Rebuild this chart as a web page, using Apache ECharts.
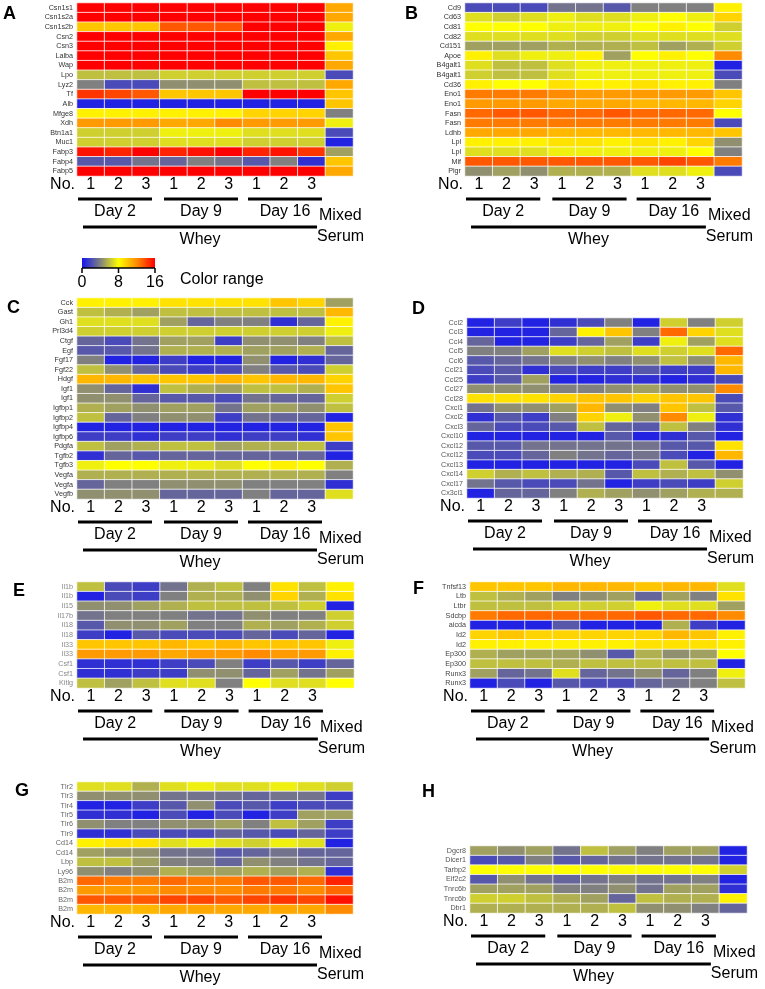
<!DOCTYPE html>
<html>
<head>
<meta charset="utf-8">
<script src="https://cdn.jsdelivr.net/npm/echarts@6/dist/echarts.min.js"></script>
<style>
  html, body { margin: 0; padding: 0; background: #fff; }
  #main { width: 765px; height: 989px; }
</style>
</head>
<body>
<div id="main"></div>
<script>
// column labels: three whey samples per day + the mixed serum column
const colLabels = ['1', '2', '3', '1', '2', '3', '1', '2', '3', '']
const dayLabels = ['Day 2', 'Day 9', 'Day 16']

// expression values (0-16), one row per gene, 9 whey samples then mixed serum
const genesA = ['Csn1s1', 'Csn1s2a', 'Csn1s2b', 'Csn2', 'Csn3', 'Lalba', 'Wap', 'Lpo', 'Lyz2', 'Tf', 'Alb', 'Mfge8', 'Xdh', 'Btn1a1', 'Muc1', 'Fabp3', 'Fabp4', 'Fabp5']
const valuesA = [
  [16, 16, 16, 16, 16, 16, 16, 16, 16, 11],
  [16, 16, 16, 16, 16, 16, 16, 16, 16, 11],
  [10, 10, 10, 13.5, 13.5, 13.5, 16, 16, 16, 7.5],
  [16, 16, 16, 16, 16, 16, 16, 16, 16, 11],
  [16, 16, 16, 16, 16, 16, 16, 16, 16, 8.5],
  [16, 16, 16, 16, 16, 16, 16, 16, 16, 10],
  [16, 16, 16, 16, 16, 16, 16, 16, 16, 11],
  [6, 6, 6, 6.5, 6.5, 6.5, 6.5, 6.5, 6.5, 2],
  [4, 2, 2, 4.5, 4.5, 4.5, 6, 6, 6, 11],
  [14.5, 14, 13.5, 10, 10, 10, 16, 16, 16, 10],
  [0.5, 0.5, 0.5, 0.5, 0.5, 0.5, 0.5, 0.5, 0.5, 10],
  [8.5, 8.5, 8.5, 8.5, 8.5, 8.5, 9.5, 9.5, 9.5, 4],
  [11.5, 11.5, 11.5, 11, 11, 12, 11.5, 11.5, 11.5, 7.5],
  [6.5, 6.5, 6.5, 7.5, 7.5, 7.5, 7, 7, 7, 2],
  [6.5, 6.5, 6.5, 7, 7, 7, 6.5, 6.5, 6.5, 0.5],
  [15.5, 15, 16, 15, 15.5, 16, 15, 15.5, 14.5, 5],
  [2.5, 2.5, 3.5, 3, 4, 3.5, 2.5, 4, 1, 10],
  [16, 16, 16, 16, 16, 16, 16, 16, 16, 11]
]

const genesB = ['Cd9', 'Cd63', 'Cd81', 'Cd82', 'Cd151', 'Apoe', 'B4galt1', 'B4galt1', 'Cd36', 'Eno1', 'Eno1', 'Fasn', 'Fasn', 'Ldhb', 'Lpl', 'Lpl', 'Mif', 'Pigr']
const valuesB = [
  [2, 2, 2, 3.5, 3.5, 2.5, 4, 4, 4, 8.5],
  [7, 6.5, 7, 7.5, 7, 7, 7.5, 8, 7.5, 9.5],
  [8, 8, 8, 7.5, 7.5, 7.5, 8, 8.5, 8, 6.5],
  [7, 7, 7, 7, 6.5, 6.5, 7, 7, 7, 7],
  [5, 5, 5, 5.5, 5.5, 5.5, 6, 5, 5.5, 6.5],
  [8.5, 7, 7.5, 7.5, 8.5, 5, 8, 8.5, 8, 12],
  [7, 6, 6, 7, 7.5, 7.5, 7.5, 7.5, 7.5, 0.5],
  [6.5, 6, 6, 7, 7.5, 7.5, 7.5, 7.5, 7.5, 2],
  [8.5, 8, 8, 9, 8.5, 8.5, 9, 8.5, 8.5, 4],
  [12.5, 12.5, 12.5, 12, 11.5, 11.5, 11.5, 11.5, 11.5, 10],
  [11.5, 11.5, 11.5, 11, 11, 11, 10.5, 10.5, 10.5, 9.5],
  [13, 13.5, 13.5, 13, 13, 13.5, 13, 13, 13, 8],
  [12.5, 12.5, 12.5, 12.5, 12.5, 12.5, 12.5, 12.5, 12.5, 2],
  [11, 11, 11, 10.5, 10.5, 10.5, 10.5, 10.5, 10.5, 10],
  [8.5, 8.5, 8.5, 9, 9, 8.5, 9, 8.5, 9.5, 4.5],
  [7, 7, 7, 7.5, 7.5, 7.5, 7.5, 7.5, 8, 4],
  [13.5, 13.5, 13.5, 13.5, 13.5, 13.5, 13.5, 14, 13.5, 12.5],
  [4.5, 5, 4.5, 5.5, 5.5, 5.5, 7, 7, 7.5, 2]
]

const genesC = ['Cck', 'Gast', 'Gh1', 'Prl3d4', 'Ctgf', 'Egf', 'Fgf17', 'Fgf22', 'Hdgf', 'Igf1', 'Igf1', 'Igfbp1', 'Igfbp2', 'Igfbp4', 'Igfbp6', 'Pdgfa', 'Tgfb2', 'Tgfb3', 'Vegfa', 'Vegfa', 'Vegfb']
const valuesC = [
  [8.5, 8.5, 8.5, 9, 9, 9, 9, 10, 9.5, 5],
  [6, 5.5, 5, 6, 6, 6, 6, 6, 6, 10.5],
  [7, 7, 7, 5, 3, 4, 4, 1, 3, 8.5],
  [6.5, 6.5, 6.5, 6.5, 6.5, 6.5, 6.5, 6.5, 6.5, 7.5],
  [3, 2, 3.5, 5, 5, 1.5, 4.5, 4.5, 4, 6],
  [2.5, 2.5, 3.5, 5.5, 5.5, 5.5, 5, 5, 5.5, 3],
  [4, 0.5, 0.5, 1.5, 0.5, 0.5, 4.5, 0.5, 1, 3],
  [6, 4.5, 3, 2, 1.5, 2, 4, 2.5, 2, 6.5],
  [10.5, 10.5, 10, 10, 10, 10.5, 10, 10.5, 10.5, 9.5],
  [4.5, 3, 1, 6, 5.5, 5, 6, 6, 5.5, 10],
  [4.5, 4.5, 3, 2.5, 2.5, 2, 3.5, 3, 3, 6.5],
  [5.5, 5, 4.5, 5, 5, 3.5, 5, 5, 4.5, 6],
  [6, 3, 4, 4.5, 4.5, 1.5, 3.5, 3, 3, 0.5],
  [0.5, 0.5, 0.5, 0.5, 0.5, 0.5, 0.5, 0.5, 0.5, 10],
  [1.5, 1.5, 1, 1.5, 1.5, 1, 1.5, 1.5, 1, 10],
  [6, 5, 5.5, 6, 6, 5, 5.5, 5.5, 6, 1.5],
  [1, 3, 2.5, 3, 3, 3, 3, 3, 3, 0.5],
  [7.5, 8, 8, 7.5, 7.5, 7, 8, 8.5, 8, 5.5],
  [5.5, 5.5, 5.5, 5.5, 5.5, 5.5, 5.5, 5.5, 5.5, 4],
  [3, 4, 4, 4.5, 4.5, 4.5, 4, 4, 4, 1],
  [4.5, 4.5, 4.5, 3, 3, 3, 4, 3, 3, 7]
]

const genesD = ['Ccl2', 'Ccl3', 'Ccl4', 'Ccl5', 'Ccl6', 'Ccl21', 'Ccl25', 'Ccl27', 'Ccl28', 'Cxcl1', 'Cxcl2', 'Cxcl3', 'Cxcl10', 'Cxcl12', 'Cxcl12', 'Cxcl13', 'Cxcl14', 'Cxcl17', 'Cx3cl1']
const valuesD = [
  [0.5, 1.5, 0.5, 1, 2, 4, 0.5, 6.5, 4, 6.5],
  [0.5, 0.5, 0.5, 3, 8.5, 10, 4, 13, 9.5, 7],
  [3, 0.5, 0.5, 1.5, 3, 5, 1.5, 7.5, 5, 7],
  [4, 4, 5, 7, 6.5, 6, 7, 6.5, 7, 13],
  [2.5, 3, 3.5, 4, 4.5, 4, 4.5, 6, 4.5, 10.5],
  [2, 2.5, 1, 2, 1.5, 1.5, 2.5, 1.5, 1.5, 10.5],
  [1.5, 2.5, 5, 0.5, 0.5, 1, 1, 0.5, 1, 2],
  [4.5, 4.5, 4.5, 4, 4, 4.5, 5, 4.5, 4.5, 12],
  [9, 9, 9, 9.5, 10, 10, 9.5, 10, 10, 2],
  [3.5, 4.5, 4.5, 5, 10.5, 4.5, 4, 10, 6, 2.5],
  [1, 2.5, 1.5, 4, 9.5, 7.5, 4.5, 12, 7.5, 1],
  [3, 2, 2, 2.5, 6, 3, 2.5, 6, 4, 1],
  [0.5, 0.5, 0.5, 0.5, 0.5, 2.5, 0.5, 1, 2.5, 0.5],
  [2.5, 2.5, 3.5, 3.5, 3.5, 3.5, 3.5, 2.5, 2.5, 9],
  [2, 2, 3, 4, 3.5, 3, 3.5, 2, 0.5, 10.5],
  [0.5, 0.5, 0.5, 0.5, 0.5, 0.5, 2, 6, 2.5, 0.5],
  [6.5, 5.5, 6, 5.5, 5.5, 2.5, 6, 5.5, 6, 4.5],
  [3.5, 2.5, 2, 2, 3.5, 0.5, 1.5, 2, 1.5, 6.5],
  [0.5, 3, 3, 4, 5.5, 5, 4.5, 5, 5.5, 5.5]
]

const genesE = ['Il1b', 'Il1b', 'Il15', 'Il17b', 'Il18', 'Il18', 'Il33', 'Il33', 'Csf1', 'Csf1', 'Kitlg']
const valuesE = [
  [6, 2, 1.5, 3.5, 5.5, 6, 4, 9, 6, 8.5],
  [0.5, 2, 1.5, 4, 5.5, 5.5, 4.5, 9.5, 5.5, 9],
  [4.5, 4.5, 5, 5.5, 6, 6, 6, 6, 6.5, 0.5],
  [3.5, 4, 4, 4, 3.5, 3.5, 4.5, 4, 4, 6.5],
  [2.5, 4.5, 4.5, 5, 4, 4, 5.5, 5, 5.5, 6.5],
  [1.5, 0.5, 2.5, 2, 2, 2, 3, 2, 3, 0.5],
  [10, 10, 10, 10.5, 10, 10.5, 10, 10, 10, 7.5],
  [11.5, 11.5, 11.5, 11, 11.5, 11.5, 12, 11.5, 11.5, 8.5],
  [1, 1, 1, 1.5, 2, 4, 1.5, 2.5, 1.5, 3],
  [1, 1, 1.5, 1.5, 4.5, 4.5, 3, 5, 3.5, 5],
  [6, 5, 6, 7, 7, 4, 8, 7, 7, 8]
]

const genesF = ['Tnfsf13', 'Ltb', 'Ltbr', 'Sdcbp', 'aicda', 'Id2', 'Id2', 'Ep300', 'Ep300', 'Runx3', 'Runx3']
const valuesF = [
  [10, 10, 10, 10.5, 10.5, 10.5, 10, 10.5, 10.5, 7],
  [6, 5.5, 5, 4, 4.5, 5, 3, 5, 4, 9],
  [6, 6, 6, 6.5, 6.5, 6.5, 7.5, 7, 7, 5],
  [12.5, 13, 13, 13, 13, 13, 13.5, 13, 13, 12],
  [0.5, 0.5, 0.5, 2.5, 0.5, 0.5, 0.5, 5.5, 1.5, 0.5],
  [9.5, 10, 9.5, 9.5, 9.5, 9.5, 9.5, 10.5, 10, 8.5],
  [8.5, 8.5, 8.5, 8.5, 8.5, 8.5, 9, 9, 9, 8.5],
  [5.5, 5, 5, 5, 4.5, 2.5, 5.5, 4.5, 5, 8],
  [6, 6, 6, 5.5, 6, 6, 6, 6, 6, 0.5],
  [5, 3, 3.5, 7, 3, 3.5, 4.5, 3, 4, 7.5],
  [0.5, 2, 0.5, 2.5, 2, 2, 3, 3.5, 4, 6]
]

const genesG = ['Tlr2', 'Tlr3', 'Tlr4', 'Tlr5', 'Tlr6', 'Tlr9', 'Cd14', 'Cd14', 'Lbp', 'Ly96', 'B2m', 'B2m', 'B2m', 'B2m']
const valuesG = [
  [7, 7, 5.5, 7, 7.5, 7, 7, 7.5, 7, 6.5],
  [4.5, 4.5, 4.5, 3.5, 3.5, 3.5, 3, 3.5, 3.5, 1.5],
  [0.5, 0.5, 1.5, 2.5, 4.5, 2, 2.5, 1.5, 2, 2],
  [1, 1, 0.5, 2, 0.5, 2, 0.5, 1.5, 5, 5],
  [4.5, 4, 4, 4.5, 4.5, 5, 4, 6, 5, 1.5],
  [1, 1, 2, 2, 2, 3, 2.5, 2, 3, 1.5],
  [8.5, 9, 9, 7, 7.5, 7, 6.5, 7.5, 7, 0.5],
  [5, 4.5, 4.5, 3.5, 3.5, 2.5, 3, 3.5, 3, 3],
  [6, 6, 5, 4, 4, 3, 4.5, 4, 3.5, 3],
  [4.5, 4, 4.5, 5.5, 5, 5, 5.5, 5, 5.5, 1],
  [13, 12.5, 12.5, 13, 12.5, 12.5, 13.5, 13.5, 13, 15],
  [11.5, 11.5, 11.5, 12, 12, 12, 12.5, 12.5, 12, 13],
  [13.5, 13.5, 13.5, 14, 14, 13.5, 14, 14.5, 14, 15.5],
  [10.5, 10.5, 10.5, 11, 11, 11, 11, 11, 11, 12]
]

const genesH = ['Dgcr8', 'Dicer1', 'Tarbp2', 'Eif2c2', 'Tnrc6b', 'Tnrc6b', 'Dbr1']
const valuesH = [
  [5, 4.5, 5, 3.5, 6, 5, 4, 5, 5, 0.5],
  [2, 2.5, 4, 2.5, 3, 3.5, 3.5, 3.5, 3.5, 0.5],
  [8, 8, 8, 8, 8, 8, 8, 8, 8, 6.5],
  [2.5, 4.5, 3.5, 3, 3.5, 4, 3.5, 3.5, 4, 0.5],
  [5, 5, 5, 4, 4, 4.5, 3.5, 5, 5, 1],
  [6.5, 6.5, 6, 5.5, 5, 3, 6, 5.5, 5.5, 8.5],
  [5.5, 5.5, 5.5, 5.5, 5.5, 6, 4.5, 4.5, 4, 3]
]

const colorStops = ['#1414f0', '#808080', '#ffff00', '#ff8c00', '#ff0000']
const FONT = 'Arial, "Liberation Sans", sans-serif'

// layout of each panel (pixels)
const panels = [
  { tag: 'A', genes: genesA, values: valuesA, left: 77, top: 3, width: 276, height: 173, tagX: 3, tagY: 14, labelColor: '#333' },
  { tag: 'B', genes: genesB, values: valuesB, left: 465, top: 3, width: 277, height: 173, tagX: 405, tagY: 14, labelColor: '#333' },
  { tag: 'C', genes: genesC, values: valuesC, left: 77, top: 298, width: 276, height: 201, tagX: 7, tagY: 308, labelColor: '#333' },
  { tag: 'D', genes: genesD, values: valuesD, left: 467, top: 318, width: 276, height: 180, tagX: 412, tagY: 309, labelColor: '#555' },
  { tag: 'E', genes: genesE, values: valuesE, left: 77, top: 582, width: 277, height: 106, tagX: 13, tagY: 591, labelColor: '#888' },
  { tag: 'F', genes: genesF, values: valuesF, left: 470, top: 582, width: 275, height: 106, tagX: 413, tagY: 589, labelColor: '#444' },
  { tag: 'G', genes: genesG, values: valuesG, left: 77, top: 782, width: 276, height: 132, tagX: 15, tagY: 791, labelColor: '#666' },
  { tag: 'H', genes: genesH, values: valuesH, left: 470, top: 846, width: 277, height: 67, tagX: 422, tagY: 792, labelColor: '#555' }
]

const grids = [], xAxes = [], yAxes = [], series = [], graphics = []

function txt(text, x, y, opts) {
  return {
    type: 'text', silent: true,
    style: Object.assign({ text: text, x: x, y: y, fill: '#000', font: '16px ' + FONT, align: 'center', verticalAlign: 'middle' }, opts || {})
  }
}
function bar(x1, x2, y) {
  return { type: 'line', silent: true, shape: { x1: x1, y1: y, x2: x2, y2: y }, style: { stroke: '#000', lineWidth: 3 } }
}

panels.forEach((p, i) => {
  grids.push({ left: p.left, top: p.top, width: p.width, height: p.height, containLabel: false })
  xAxes.push({
    type: 'category', gridIndex: i, data: colLabels,
    axisLine: { show: false }, axisTick: { show: false }, splitLine: { show: false },
    axisLabel: { fontSize: 16, color: '#000', fontFamily: FONT, margin: 1, lineHeight: 16, interval: 0 }
  })
  yAxes.push({
    type: 'category', gridIndex: i, data: p.genes, inverse: true,
    axisLine: { show: false }, axisTick: { show: false }, splitLine: { show: false },
    axisLabel: { fontSize: 7.2, color: p.labelColor, fontFamily: FONT, margin: 4, interval: 0 }
  })
  const data = []
  p.values.forEach((row, r) => row.forEach((v, c) => data.push([c, r, v])))
  series.push({
    type: 'heatmap', xAxisIndex: i, yAxisIndex: i, data: data,
    itemStyle: { borderColor: 'rgba(255,255,255,0.75)', borderWidth: 1 },
    emphasis: { disabled: true }, label: { show: false }
  })

  // annotations under the heatmap
  const bottom = p.top + p.height
  const k = p.width / 276
  graphics.push(txt(p.tag, p.tagX, p.tagY, { font: 'bold 18px ' + FONT, align: 'left' }))
  graphics.push(txt('No.', p.left - 2, bottom + 9, { align: 'right' }))
  ;[1, 87, 171].forEach((off, g) => {
    const x1 = p.left + off * k, x2 = x1 + 74 * k
    graphics.push(bar(x1, x2, bottom + 23))
    graphics.push(txt(dayLabels[g], (x1 + x2) / 2, bottom + 36))
  })
  graphics.push(bar(p.left + 6 * k, p.left + 240 * k, bottom + 51))
  graphics.push(txt('Whey', p.left + 123 * k, bottom + 64))
  graphics.push(txt('Mixed', p.left + 242 * k, bottom + 40, { align: 'left' }))
  graphics.push(txt('Serum', p.left + 240 * k, bottom + 61, { align: 'left' }))
})

// color range legend
graphics.push({
  type: 'rect', silent: true,
  shape: { x: 82, y: 258, width: 73, height: 10 },
  style: {
    fill: {
      type: 'linear', x: 0, y: 0, x2: 1, y2: 0,
      colorStops: colorStops.map((c, i) => ({ offset: i / (colorStops.length - 1), color: c }))
    }
  }
})
graphics.push({ type: 'line', silent: true, shape: { x1: 82, y1: 268, x2: 155, y2: 268 }, style: { stroke: '#000', lineWidth: 1.5 } })
;[[82, '0'], [118.5, '8'], [155, '16']].forEach(t => {
  graphics.push({ type: 'line', silent: true, shape: { x1: t[0], y1: 268, x2: t[0], y2: 273 }, style: { stroke: '#000', lineWidth: 1.5 } })
  graphics.push(txt(t[1], t[0], 283))
})
graphics.push(txt('Color range', 180, 280, { align: 'left' }))

const chart = echarts.init(document.getElementById('main'), null, { renderer: 'canvas' })
chart.setOption({
  backgroundColor: '#fff',
  animation: false,
  grid: grids,
  xAxis: xAxes,
  yAxis: yAxes,
  visualMap: {
    type: 'continuous', show: false, min: 0, max: 16,
    seriesIndex: series.map((s, i) => i),
    inRange: { color: colorStops }
  },
  series: series,
  graphic: graphics
})
</script>
</body>
</html>
